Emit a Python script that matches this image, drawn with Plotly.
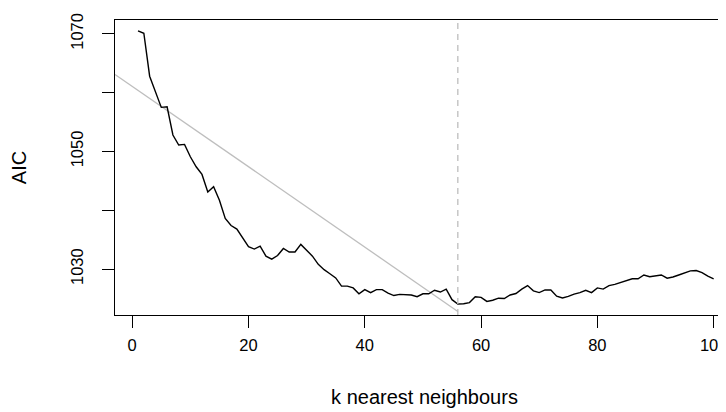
import plotly.graph_objects as go

# ---- data ----
k_values = list(range(1, 101))
aic_values = [
    1070.5, 1070.1, 1062.8, 1060.2, 1057.5, 1057.6, 1052.8, 1051.1, 1051.2, 1049.1,
    1047.4, 1046.1, 1043.1, 1044.0, 1041.7, 1038.6, 1037.4, 1036.8, 1035.3, 1033.8,
    1033.4, 1033.9, 1032.2, 1031.7, 1032.3, 1033.5, 1032.9, 1032.9, 1034.2, 1033.2,
    1032.2, 1030.8, 1029.9, 1029.2, 1028.5, 1027.1, 1027.1, 1026.8, 1025.8, 1026.5,
    1026.0, 1026.5, 1026.5, 1025.9, 1025.5, 1025.7, 1025.7, 1025.6, 1025.3, 1025.8,
    1025.8, 1026.4, 1026.1, 1026.6, 1024.8, 1024.05, 1024.1, 1024.3, 1025.3, 1025.2,
    1024.5, 1024.7, 1025.05, 1025.0, 1025.6, 1025.85, 1026.6, 1027.2, 1026.3, 1026.0,
    1026.45, 1026.45, 1025.4, 1025.1, 1025.35, 1025.75, 1026.0, 1026.4, 1026.0, 1026.8,
    1026.6, 1027.2, 1027.4, 1027.7, 1028.0, 1028.35, 1028.35, 1029.0, 1028.7, 1028.8,
    1029.0, 1028.45, 1028.65, 1029.0, 1029.4, 1029.7, 1029.75, 1029.4, 1028.8, 1028.35,
]
best_k = 56
ref_line_k = [-2.96, 56]
ref_line_aic = [1063.1, 1022.8]

x_tick_vals = [0, 20, 40, 60, 80, 100]
y_tick_vals = [1030, 1040, 1050, 1060, 1070]
y_tick_text = ["1030", "", "1050", "", "1070"]

x_title = "k nearest neighbours"
y_title = "AIC"

# ---- ranges (R style 4% padding) ----
kspan = max(k_values) - min(k_values)
x_lo = min(k_values) - 0.04 * kspan
x_hi = 103.5  # right edge of the picture cuts the R box
aspan = max(aic_values) - min(aic_values)
y_lo = min(aic_values) - 0.04 * aspan
y_hi = max(aic_values) + 0.04 * aspan

FONT = "Liberation Sans, Arial, sans-serif"
FS = 16.5

fig = go.Figure()
fig.add_trace(go.Scatter(x=ref_line_k, y=ref_line_aic, mode="lines",
                         line=dict(color="#bebebe", width=1.3), hoverinfo="skip"))
fig.add_trace(go.Scatter(x=k_values, y=aic_values, mode="lines",
                         line=dict(color="black", width=1.4)))
fig.add_shape(type="line", xref="x", yref="paper", x0=best_k, x1=best_k, y0=0, y1=1,
              line=dict(color="#bebebe", width=1.3, dash="6px,5px"))

fig.update_layout(
    width=726, height=412,
    margin=dict(l=107, r=0, t=12, b=105),
    paper_bgcolor="white", plot_bgcolor="white",
    showlegend=False,
    font=dict(family=FONT, size=FS, color="black"),
    xaxis=dict(range=[x_lo, x_hi], tickvals=x_tick_vals, ticks="outside", ticklen=12,
               tickcolor="black", tickwidth=1, showline=True, linecolor="black",
               linewidth=1, mirror=True, showgrid=False, zeroline=False,
               ticklabelstandoff=3,
               title=dict(text=x_title, standoff=37), tickfont=dict(size=FS)),
    yaxis=dict(range=[y_lo, y_hi], tickvals=y_tick_vals, ticktext=y_tick_text,
               ticks="outside", ticklen=12, tickcolor="black", tickwidth=1,
               showline=True, linecolor="black", linewidth=1, mirror=False,
               showgrid=False, zeroline=False, tickangle=-90, ticklabelstandoff=12,
               title=dict(text=y_title, standoff=36), tickfont=dict(size=FS)),
)

fig.write_html("out.html")
